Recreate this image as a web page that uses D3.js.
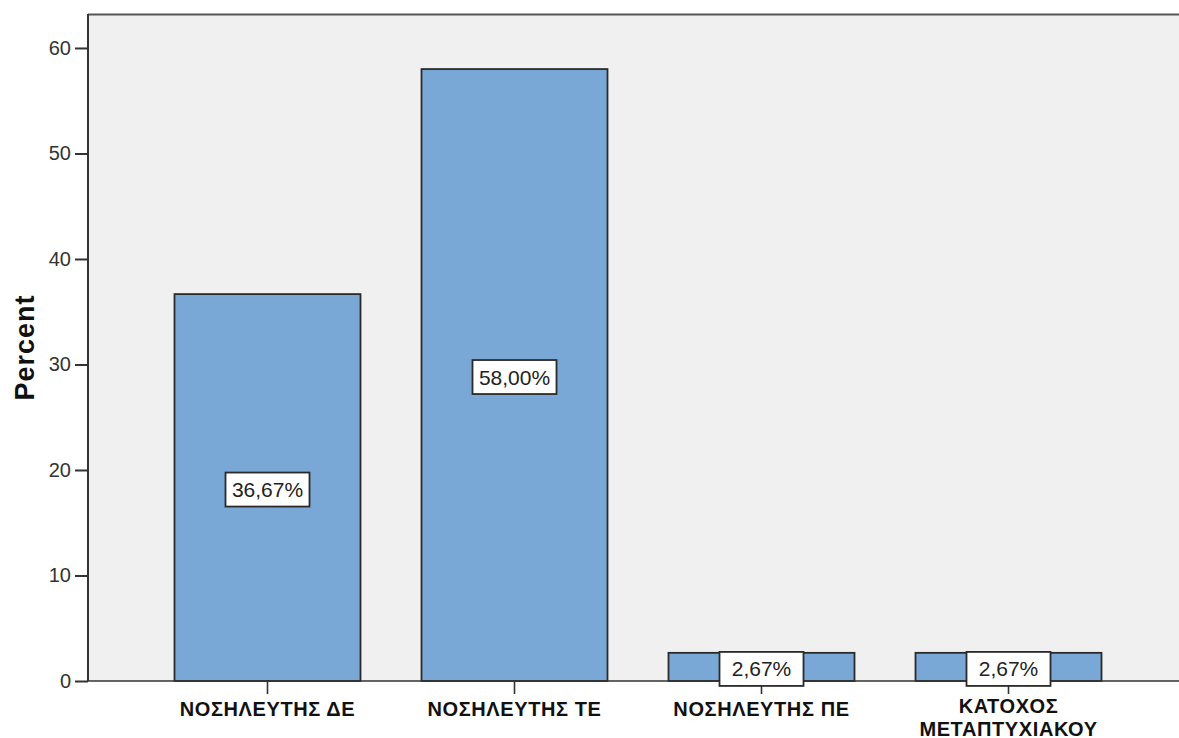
<!DOCTYPE html>
<html>
<head>
<meta charset="utf-8">
<script src="https://cdn.jsdelivr.net/npm/d3@7"></script>
<style>
  html, body { margin: 0; padding: 0; background: #ffffff; }
  svg { display: block; }
</style>
</head>
<body>
<svg id="chart" width="1179" height="738"></svg>
<script>
// Education level categories (two-line labels split with "\n")
const categories = ["ΝΟΣΗΛΕΥΤΗΣ ΔΕ", "ΝΟΣΗΛΕΥΤΗΣ ΤΕ", "ΝΟΣΗΛΕΥΤΗΣ ΠΕ", "ΚΑΤΟΧΟΣ\nΜΕΤΑΠΤΥΧΙΑΚΟΥ"];
const percentValues = [36.67, 58.00, 2.67, 2.67];
const yTicks = [0, 10, 20, 30, 40, 50, 60];
const yTitle = "Percent";

const svg = d3.select("#chart");
const plot = { left: 88, top: 14, right: 1179, bottom: 681 };
const font = "Arial, 'Liberation Sans', sans-serif";

const y = d3.scaleLinear().domain([0, 63.22]).range([plot.bottom, plot.top]);
const x = d3.scaleBand().domain(categories)
  .range([144, 1132]).paddingInner(0.247).paddingOuter(0.1235);

// plot background
svg.append("rect")
  .attr("x", plot.left).attr("y", plot.top)
  .attr("width", plot.right - plot.left).attr("height", plot.bottom - plot.top)
  .attr("fill", "#f0f0f0");

// top frame line
svg.append("line")
  .attr("x1", plot.left).attr("x2", plot.right)
  .attr("y1", plot.top + 0.5).attr("y2", plot.top + 0.5)
  .attr("stroke", "#555").attr("stroke-width", 2);

// bars
svg.append("g").selectAll("rect").data(percentValues).join("rect")
  .attr("x", (d, i) => x(categories[i]))
  .attr("y", d => y(d))
  .attr("width", x.bandwidth())
  .attr("height", d => plot.bottom - y(d))
  .attr("fill", "#79a8d6")
  .attr("stroke", "#2a2a2a").attr("stroke-width", 1.8);

// y axis
const yAxis = svg.append("g")
  .attr("transform", `translate(${plot.left},0)`)
  .call(d3.axisLeft(y).tickValues(yTicks).tickSize(13).tickPadding(4).tickSizeOuter(0));
yAxis.select(".domain").remove();
yAxis.append("line")
  .attr("x1", 0).attr("x2", 0).attr("y1", plot.top).attr("y2", plot.bottom)
  .attr("stroke", "#333").attr("stroke-width", 2);
yAxis.selectAll(".tick line").attr("stroke", "#333").attr("stroke-width", 2);
yAxis.selectAll(".tick text")
  .attr("font-family", font)
  .attr("font-size", 20).attr("fill", "#333");

// x axis
const xAxis = svg.append("g")
  .attr("transform", `translate(0,${plot.bottom})`)
  .call(d3.axisBottom(x).tickSize(13).tickSizeOuter(0).tickFormat(""));
xAxis.select(".domain").remove();
xAxis.append("line")
  .attr("x1", plot.left).attr("x2", plot.right).attr("y1", 0).attr("y2", 0)
  .attr("stroke", "#333").attr("stroke-width", 1.6);
xAxis.selectAll(".tick line").attr("stroke", "#333").attr("stroke-width", 1.6);

// category labels, one text per line
const catLines = categories.flatMap(c => c.split("\n").map((ln, k, arr) => ({ c, ln, k, n: arr.length })));
svg.append("g").selectAll("text").data(catLines).join("text")
  .attr("x", d => x(d.c) + x.bandwidth() / 2)
  .attr("y", d => (d.n > 1 ? 713 : 716) + d.k * 22.5)
  .attr("text-anchor", "middle")
  .attr("font-family", font)
  .attr("font-weight", "bold").attr("font-size", 20).attr("letter-spacing", 0.6)
  .attr("fill", "#111")
  .text(d => d.ln);

// value labels in white boxes centred on each bar
const fmt = v => v.toFixed(2).replace(".", ",") + "%";
const labels = svg.append("g").selectAll("g").data(percentValues).join("g")
  .attr("transform", (d, i) => `translate(${x(categories[i]) + x.bandwidth() / 2},${(y(d) + plot.bottom) / 2 + 2})`);
labels.append("rect")
  .attr("x", -42).attr("y", -17).attr("width", 84).attr("height", 34)
  .attr("fill", "#ffffff").attr("stroke", "#2a2a2a").attr("stroke-width", 1.8);
labels.append("text")
  .attr("text-anchor", "middle").attr("dy", "0.36em")
  .attr("font-family", font)
  .attr("font-size", 21).attr("fill", "#222")
  .text(d => fmt(d));

// y axis title
svg.append("text")
  .attr("transform", `translate(34,${(plot.top + plot.bottom) / 2}) rotate(-90)`)
  .attr("text-anchor", "middle")
  .attr("font-family", font)
  .attr("font-weight", "bold").attr("font-size", 27).attr("letter-spacing", 1)
  .attr("fill", "#111")
  .text(yTitle);
</script>
</body>
</html>
